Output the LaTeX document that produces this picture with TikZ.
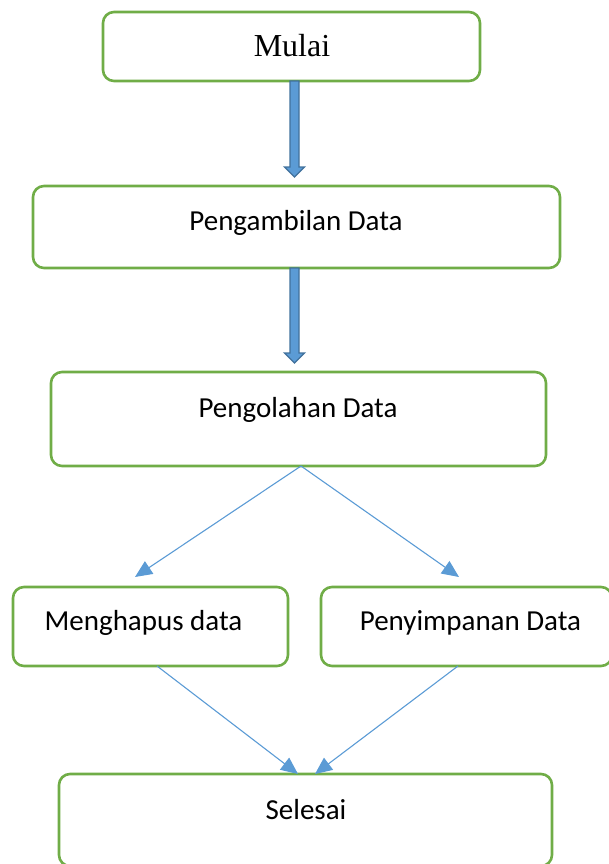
\documentclass[tikz,border=0pt]{standalone}
\usepackage{fontspec}
\setmainfont{Carlito}
\newfontfamily\timesfont{Liberation Serif}
\usetikzlibrary{arrows.meta}
\definecolor{boxgreen}{HTML}{70AD47}
\definecolor{lineblue}{HTML}{5B9BD5}
\definecolor{blockedge}{HTML}{41719C}
\tikzset{
  box/.style={draw=boxgreen, line width=2.6pt, rounded corners=11pt, fill=white, inner sep=0pt},
  txt/.style={anchor=base, inner sep=0pt, font=\fontsize{29}{34}\selectfont},
  thin/.style={draw=lineblue, line width=1.1pt, -{Triangle[length=17pt,width=15pt]}},
  blockarrow/.style={fill=lineblue, draw=blockedge, line width=1.4pt, line join=miter}
}
\begin{document}
\begin{tikzpicture}[x=1pt,y=-1pt]
\useasboundingbox (0,0) rectangle (609,864);
% boxes
\node[box, minimum width=377pt, minimum height=69pt] (mulai) at (291.5,46.5) {};
\node[box, minimum width=527pt, minimum height=82pt] (ambil) at (296.5,227) {};
\node[box, minimum width=495pt, minimum height=94pt] (olah) at (298.5,419) {};
\node[box, minimum width=275pt, minimum height=79pt] (hapus) at (150.5,626.5) {};
\node[box, minimum width=291pt, minimum height=79pt] (simpan) at (466.5,626.5) {};
\node[box, minimum width=493pt, minimum height=92pt] (selesai) at (305.5,820) {};
% texts
\node[txt, font=\timesfont\fontsize{32}{38}\selectfont] (tmulai) at (292,56.5) {Mulai};
\node[txt] (tambil) at (296,230) {Pengambilan Data};
\node[txt] (tolah) at (298,417) {Pengolahan Data};
\node[txt] (thapus) at (143.5,630) {Menghapus data};
\node[txt] (tsimpan) at (470.5,630) {Penyimpanan Data};
\node[txt] (tselesai) at (306,819) {Selesai};
% block arrows
\coordinate (a1s) at (294.5,81);
\coordinate (a2s) at (294.5,268);
\draw[blockarrow] (a1s) ++(-4.5,0) -- ++(0,86) -- ++(-5.5,0) -- ++(10,10) -- ++(10,-10) -- ++(-5.5,0) -- ++(0,-86) -- cycle;
\draw[blockarrow] (a2s) ++(-4.5,0) -- ++(0,85) -- ++(-5.5,0) -- ++(10,10) -- ++(10,-10) -- ++(-5.5,0) -- ++(0,-85) -- cycle;
% thin arrows
\coordinate (split) at (301,466);
\coordinate (hapusin) at (135,577);
\coordinate (simpanin) at (459,577);
\coordinate (hapusout) at (157,666);
\coordinate (simpanout) at (458,666);
\coordinate (sel1) at (298,774);
\coordinate (sel2) at (315,774);
\draw[thin] (split) -- (hapusin);
\draw[thin] (split) -- (simpanin);
\draw[thin] (hapusout) -- (sel1);
\draw[thin] (simpanout) -- (sel2);
\end{tikzpicture}
\end{document}
